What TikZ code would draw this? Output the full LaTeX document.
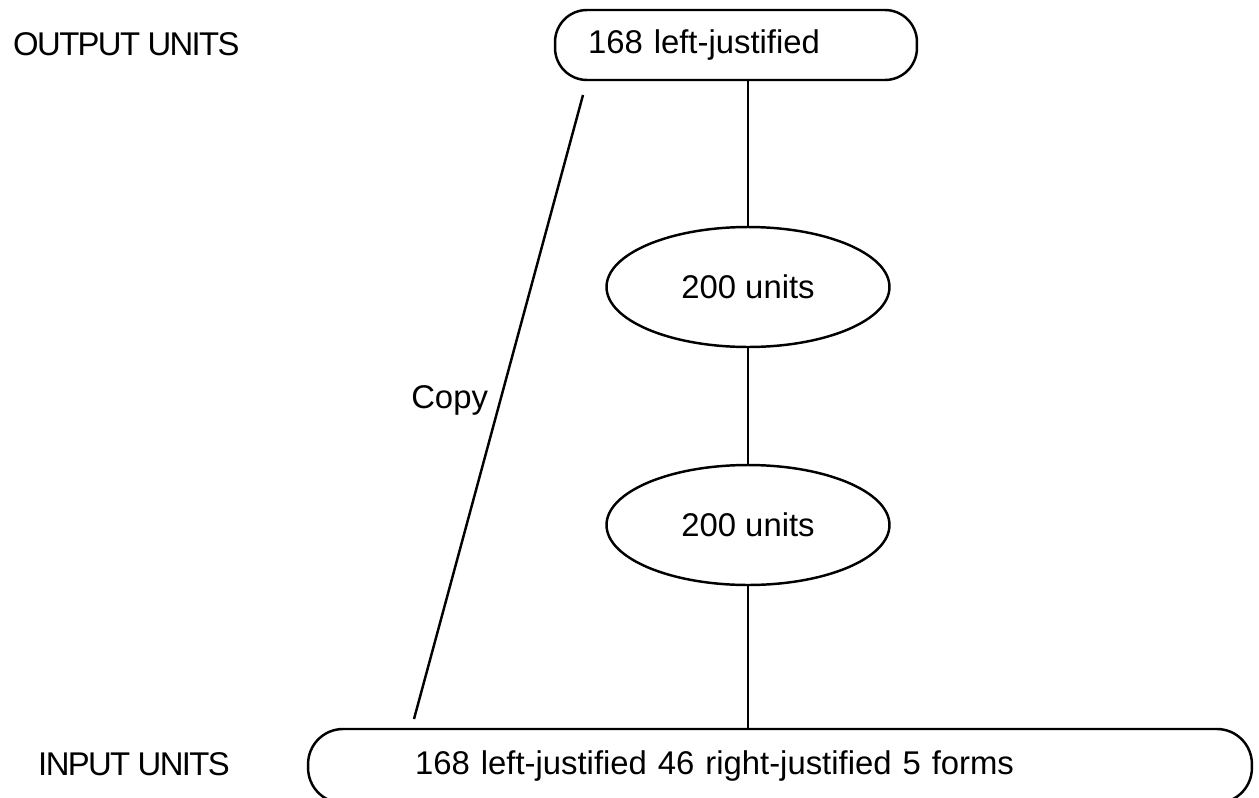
\documentclass[tikz,border=0pt]{standalone}
\usepackage{fontspec}
\setmainfont{Liberation Sans}
\usetikzlibrary{shapes.geometric}

\begin{document}
\begin{tikzpicture}[x=0.02cm, y=-0.02cm, line width=1.4pt,
        font=\fontsize{18.7}{23}\selectfont,
        unitblob/.style={draw, ellipse, minimum width=5.66cm, minimum height=2.4cm, inner sep=0pt},
        layerbox/.style={draw, rounded corners=0.7cm, align=left, inner ysep=0pt},
        sidelabel/.style={anchor=west, inner sep=0pt, font=\fontsize{18.7}{23}\selectfont\addfontfeatures{LetterSpace=-5}}]
            \clip (0,0) rectangle (1259,798);
            \node[sidelabel] (outlbl) at (12,44) {OUTPUT UNITS};
            \node[sidelabel] (inlbl) at (37,764) {INPUT UNITS};
            \node[layerbox, minimum width=7.24cm, minimum height=1.4cm, text width=5.92cm, inner xsep=0.66cm, rounded corners=0.64cm] (outp) at (736,45) {168 left-justified};
            \node[unitblob] (hidA) at (748,287) {200 units};
            \node[unitblob] (hidB) at (748,525) {200 units};
            \node[layerbox, minimum width=18.88cm, minimum height=1.48cm, text width=14.6cm, inner xsep=2.14cm] (inp) at (780,766) {168 left-justified 46 right-justified 5 forms};
            \draw (hidA.north) -- (hidA.north |- outp.south);
            \draw (hidA.south) -- (hidB.north);
            \draw (hidB.south) -- (hidB.south |- inp.north);
            % copy connection
            \coordinate (copytop) at (583,95);
            \coordinate (copybot) at (414,719);
            \draw (copytop) -- node[pos=0.49, anchor=east, inner sep=0pt, xshift=-0.22cm] (copylbl) {Copy} (copybot);
        \end{tikzpicture}
\end{document}
